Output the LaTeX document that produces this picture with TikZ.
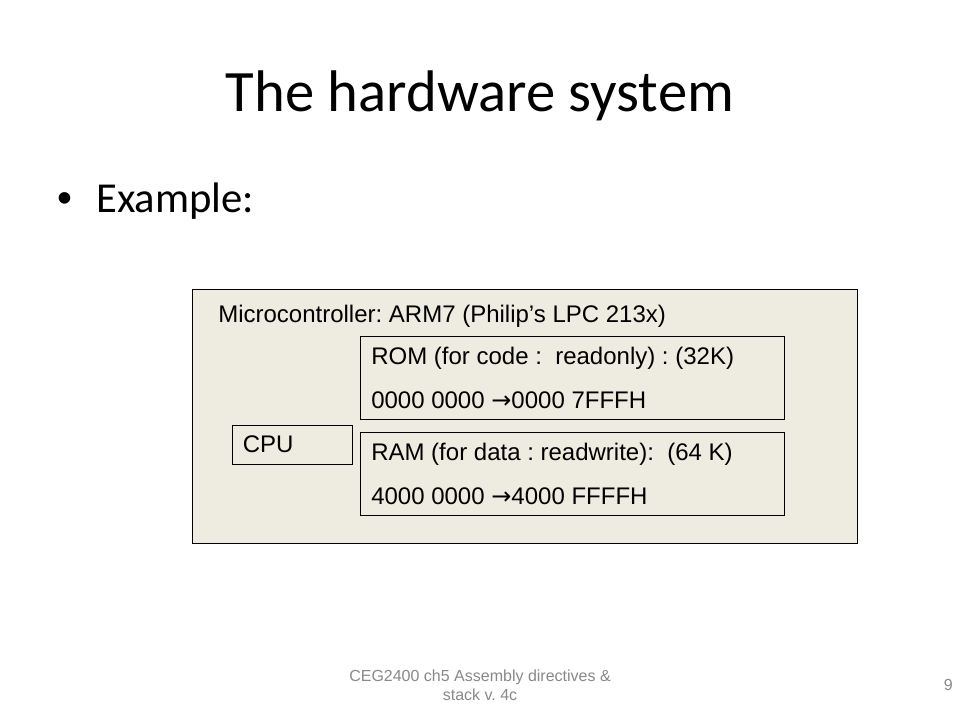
\documentclass[tikz,border=0pt]{standalone}
\usepackage{fontspec}
\setmainfont{Carlito}
\newfontfamily\arial{Liberation Sans}
\newfontfamily\dejavu{DejaVu Sans}
\usepackage{tikz}
\frenchspacing

\definecolor{boxbg}{HTML}{EEECE1}
\definecolor{footgray}{HTML}{898989}
\newcommand{\toarrow}{{\dejavu →}}

\tikzset{
  boxtext/.style={anchor=base west,inner sep=0pt,font=\arial\fontsize{18}{21}\selectfont},
  foottext/.style={inner sep=0pt,text=footgray,font=\arial\fontsize{12}{14}\selectfont}
}

\begin{document}
\begin{tikzpicture}[x=0.75pt,y=-0.75pt]
\useasboundingbox[fill=white] (0,0) rectangle (960,720);
\node[anchor=base,inner sep=0pt,font=\fontsize{44}{50}\selectfont] (title) at (480,112) {The hardware system};
\node[anchor=base,inner sep=0pt,font=\arial\fontsize{32}{38}\selectfont] (bullet) at (65,213) {•};
\node[anchor=base west,inner sep=0pt,font=\fontsize{32}{38}\selectfont] (example) at (96,213) {Example:};
\draw[fill=boxbg,thin] (192,289) rectangle (857,543);
\draw[thin] (360.5,336) rectangle (784.5,419);
\draw[thin] (360.5,432.5) rectangle (784.5,515);
\draw[thin] (232.5,425) rectangle (352.5,464);
\node[boxtext] (micro) at (218,322) {Microcontroller: ARM7 (Philip’s LPC 213x)};
\node[boxtext] (rom) at (371,364.5) {ROM (for code :\ \ readonly) : (32K)};
\node[boxtext] (romaddr) at (371,408) {0000 0000 \toarrow0000 7FFFH};
\node[boxtext] (cpu) at (242.5,452) {CPU};
\node[boxtext] (ram) at (371,460.5) {RAM (for data : readwrite):\ \ (64 K)};
\node[boxtext] (ramaddr) at (371,504.5) {4000 0000 \toarrow4000 FFFFH};
\node[foottext,align=center] (foot) at (480,685) {CEG2400 ch5 Assembly directives \&\\stack v. 4c};
\node[foottext,anchor=east] (page) at (953,685) {9};
\end{tikzpicture}
\end{document}
